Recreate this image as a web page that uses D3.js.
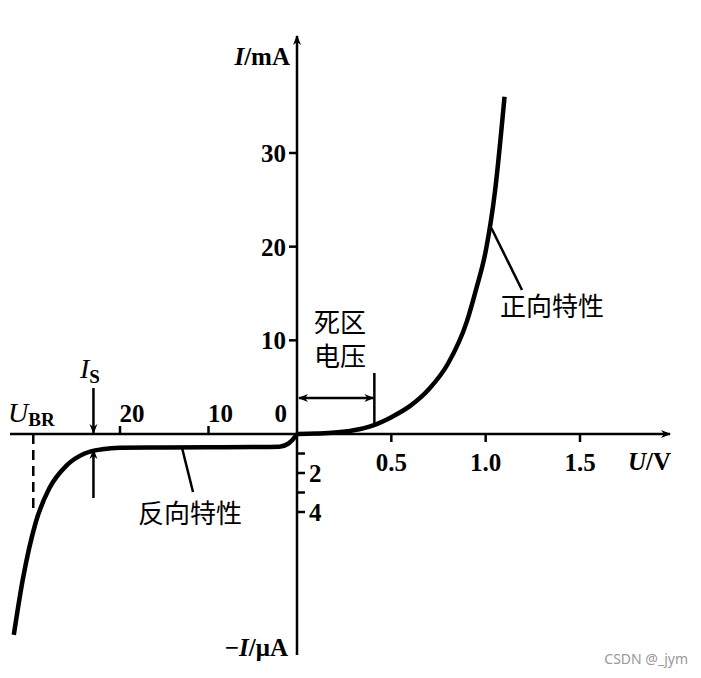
<!DOCTYPE html>
<html><head><meta charset="utf-8">
<script src="https://cdn.jsdelivr.net/npm/d3@7"></script>
<style>
body{margin:0;background:#fff;}
text{fill:#000;}
.num{font-family:"Liberation Serif",serif;font-weight:bold;font-size:25px;}
.cjk{font-family:"Noto Sans CJK SC",sans-serif;font-size:26px;}
</style></head><body>
<svg id="chart" width="701" height="678"></svg>
<script>
// forward characteristic: U in V, I in mA
const fwdU = [0, 0.1, 0.2, 0.3, 0.4, 0.5, 0.6, 0.7, 0.8, 0.9, 0.95, 1.0, 1.05, 1.1];
const fwdI = [0, 0.05, 0.15, 0.4, 0.9, 1.8, 3.0, 4.8, 7.5, 12, 15.5, 19.5, 26, 36];
// reverse characteristic: U in V (reverse), I in uA (reverse)
const revU = [0, 0.5, 1, 2, 5, 10, 15, 20, 22, 24, 26, 28, 29.5, 31, 32];
const revI = [0, 0.3, 0.5, 0.65, 0.67, 0.68, 0.69, 0.7, 0.78, 1.0, 1.6, 2.8, 4.5, 7.5, 10.3];
const fwdUTicks = [0.5, 1.0, 1.5];
const fwdITicks = [10, 20, 30];
const revUTicks = [10, 20];
const revITicks = [1, 2, 3, 4];
const revILabels = [2, 4];

const ox = 297, oy = 434;
const xF = d3.scaleLinear().domain([0, 1.5]).range([ox, 580]);
const yF = d3.scaleLinear().domain([0, 30]).range([oy, 153]);
const xR = d3.scaleLinear().domain([0, 20]).range([ox, 120]);
const yR = d3.scaleLinear().domain([0, 4]).range([oy, 512]);

const svg = d3.select('#chart');
const defs = svg.append('defs');
defs.append('marker').attr('id', 'ah').attr('viewBox', '0 0 10 10')
    .attr('refX', 9).attr('refY', 5).attr('markerWidth', 13).attr('markerHeight', 10)
    .attr('markerUnits', 'userSpaceOnUse').attr('orient', 'auto-start-reverse')
    .append('path').attr('d', 'M0,1 L10,5 L0,9 L3,5 Z').attr('fill', '#000');

const g = svg.append('g');
const line = (x1, y1, x2, y2, w) => g.append('line').attr('x1', x1).attr('y1', y1)
    .attr('x2', x2).attr('y2', y2).attr('stroke', '#000').attr('stroke-width', w || 2.5);

// AXES
line(10, oy, 670, oy).attr('marker-end', 'url(#ah)');
line(ox, 655, ox, 36).attr('marker-end', 'url(#ah)');

// ticks
fwdUTicks.forEach(v => {
    line(xF(v), oy, xF(v), oy + 8);
    g.append('text').attr('class', 'num').attr('x', xF(v)).attr('y', oy + 37)
        .attr('text-anchor', 'middle').text(v.toFixed(1));
});
fwdITicks.forEach(v => {
    line(ox, yF(v), ox - 8, yF(v));
    g.append('text').attr('class', 'num').attr('x', ox - 11).attr('y', yF(v) + 9)
        .attr('text-anchor', 'end').text(v);
});
revUTicks.forEach(v => {
    line(xR(v), oy, xR(v), oy - 8);
    g.append('text').attr('class', 'num').attr('x', xR(v) + 12).attr('y', oy - 12)
        .attr('text-anchor', 'middle').text(v);
});
g.append('text').attr('class', 'num').attr('x', 287).attr('y', oy - 12)
    .attr('text-anchor', 'end').text('0');
revITicks.forEach(v => line(ox, yR(v), ox + 8, yR(v)));
revILabels.forEach(v => {
    g.append('text').attr('class', 'num').attr('x', ox + 12).attr('y', yR(v) + 9).text(v);
});

// axis names
const yl = g.append('text').attr('class', 'num').attr('x', 290).attr('y', 65).attr('text-anchor', 'end');
yl.append('tspan').attr('font-style', 'italic').text('I');
yl.append('tspan').text('/mA');
const xl = g.append('text').attr('class', 'num').attr('x', 628).attr('y', 470);
xl.append('tspan').attr('font-style', 'italic').text('U');
xl.append('tspan').text('/V');
const nl = g.append('text').attr('class', 'num').attr('x', 288).attr('y', 656).attr('text-anchor', 'end');
nl.append('tspan').text('\u2212');
nl.append('tspan').attr('font-style', 'italic').text('I');
nl.append('tspan').text('/\u03bcA');

// CURVES
const curve = d3.line().curve(d3.curveMonotoneX);
const fwdPts = fwdU.map((u, i) => [xF(u), yF(fwdI[i])]);
const revPts = revU.map((u, i) => [xR(u), yR(revI[i])]).reverse();
[fwdPts, revPts].forEach(p => g.append('path').attr('d', curve(p))
    .attr('fill', 'none').attr('stroke', '#000').attr('stroke-width', 4.5));

// breakdown U_BR
const ubr = 29.8;
line(xR(ubr), oy, xR(ubr), yR(4.1)).attr('stroke-dasharray', '10,6');
const ub = g.append('text').attr('class', 'num').attr('x', 8).attr('y', 422);
ub.append('tspan').attr('font-style', 'italic').attr('font-weight', 'normal').attr('font-size', 28).text('U');
ub.append('tspan').attr('font-size', 19).attr('dy', 4).text('BR');

// I_S arrows
const isU = 23;
line(xR(isU), 388, xR(isU), oy - 1).attr('marker-end', 'url(#ah)');
line(xR(isU), 498, xR(isU), yR(0.72) + 2).attr('marker-end', 'url(#ah)');
const is = g.append('text').attr('class', 'num').attr('x', 80).attr('y', 378);
is.append('tspan').attr('font-style', 'italic').attr('font-weight', 'normal').attr('font-size', 28).text('I');
is.append('tspan').attr('font-size', 19).attr('dy', 5).text('S');

// dead zone
const dz = 0.41;
line(xF(dz), 373, xF(dz), yF(0.9) - 2);
line(ox + 2, 398, xF(dz) - 1, 398).attr('marker-start', 'url(#ah)').attr('marker-end', 'url(#ah)');
g.append('text').attr('class', 'cjk').attr('x', 340).attr('y', 332).attr('text-anchor', 'middle').text('死区');
g.append('text').attr('class', 'cjk').attr('x', 340).attr('y', 366).attr('text-anchor', 'middle').text('电压');

// leaders
line(xF(1.03), yF(22), 522, 290);
g.append('text').attr('class', 'cjk').attr('x', 500).attr('y', 316).text('正向特性');
line(xR(13), yR(0.69), 193, 492);
g.append('text').attr('class', 'cjk').attr('x', 138).attr('y', 523).text('反向特性');

// watermark
g.append('text').attr('x', 688).attr('y', 664).attr('text-anchor', 'end')
    .attr('font-family', 'Noto Sans, sans-serif').attr('font-size', 14)
    .style('fill', '#999').text('CSDN @_jym');
</script></body></html>
